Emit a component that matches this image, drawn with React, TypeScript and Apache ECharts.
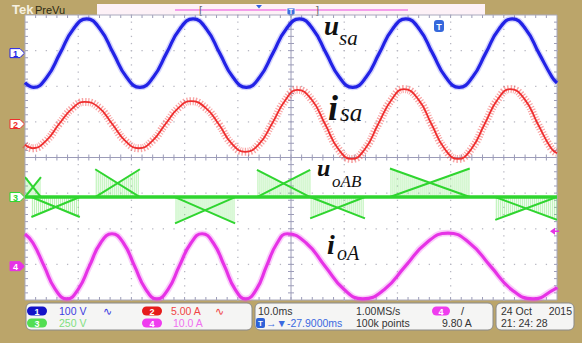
import { useEffect, useRef } from "react";
import * as echarts from "echarts";

// ---- horizontal sweep: 10 divisions at 10 ms/div ----
const msPerDiv = 10;
const hDivs = 10;
const vDivs = 8;
const sweepMs = msPerDiv * hDivs;

// ---- channel set-up: units per division and ground-marker offset (div above screen centre) ----
const chNames = ["1", "2", "3", "4"];
const chScale = [100, 5, 250, 10];
const chUnit = ["V", "A", "V", "A"];
const chOffset = [2.93, 0.94, -1.11, -3.05];
const chColor = ["#2222e6", "#ef2e2e", "#2fd52f", "#e632e6"];
const chPill = ["#1313c8", "#e61b1b", "#52de52", "#ef3cef"];
const chReadout = ["#3b3be0", "#f04545", "#80e080", "#f070f0"];

// CH1: grid phase voltage u_sa (V)
const uSaT = [0, 1.6, 4.1, 6.6, 9.1, 11.6, 14.1, 16.6, 19.1, 21.6, 24.1, 26.6, 29.1, 31.6, 34.1, 36.6, 39.1, 41.6, 44.1, 46.6, 49.1, 51.6, 54.1, 56.6, 59.1, 61.6, 64.1, 66.6, 69.1, 71.6, 74.1, 76.6, 79.1, 81.6, 84.1, 86.6, 89.1, 91.6, 94.1, 96.6, 99.1, 100];
const uSaV = [-83, -96, -68, 0, 68, 96, 68, 0, -68, -96, -68, 0, 68, 96, 68, 0, -68, -96, -68, 0, 68, 96, 68, 0, -68, -96, -68, 0, 68, 96, 68, 0, -68, -96, -68, 0, 68, 96, 68, 0, -68, -84];

// CH2: grid phase current i_sa (A), load step near the trigger point
const iSaT = [0, 1.4, 3.9, 6.4, 8.9, 11.2, 13.9, 16.4, 18.9, 21.4, 23.9, 26.4, 28.9, 31.2, 33.9, 36.4, 38.9, 41.4, 43.9, 46.4, 48.9, 51.2, 53.9, 56.4, 58.9, 61.4, 63.9, 66.4, 68.9, 71.2, 73.9, 76.4, 78.9, 81.4, 83.9, 86.4, 88.9, 91.2, 93.9, 96.4, 98.9, 100];
const iSaA = [-2.9, -3.4, -2.4, 0, 2.2, 3.1, 2.3, 0, -2.4, -3.4, -2.4, 0, 2.3, 3.2, 2.3, 0, -2.8, -3.9, -2.9, 0, 3.3, 4.8, 3.4, 0, -3.5, -4.9, -3.5, 0, 3.4, 4.9, 3.5, 0, -3.5, -4.9, -3.5, 0, 3.5, 4.9, 3.5, 0, -3.4, -4.1];

// CH3: output line voltage u_oAB switching segments (start ms, end ms, segment peak V)
const uoStart = [0, 1.2, 13.2, 28.2, 43.6, 53.6, 68.6, 88.4];
const uoEnd = [3.0, 10.3, 21.6, 39.5, 53.6, 63.9, 83.6, 100];
const uoPeak = [140, -140, 195, -185, 190, -150, 200, -160];

// CH4: output phase current i_oA (A), frequency change at the trigger point
const iOaT = [0, 1.5, 3.6, 5.7, 7.9, 10.0, 12.1, 14.2, 16.35, 18.5, 20.6, 22.7, 24.8, 26.9, 29.0, 31.2, 33.3, 35.4, 37.5, 39.5, 41.5, 43.5, 45.4, 47.4, 49.3, 52.85, 56.4, 59.95, 63.5, 67.5, 71.5, 75.5, 79.5, 83.5, 87.5, 91.5, 95.5, 99.5, 100];
const iOaA = [9.0, 6.5, 0, -6.5, -9.2, -6.5, 0, 6.5, 9.1, 6.5, 0, -6.5, -9.2, -6.5, 0, 6.5, 9.1, 6.5, 0, -6.5, -9.2, -6.5, 0, 6.5, 9.1, 6.5, 0, -6.5, -9.2, -6.6, 0, 6.6, 9.3, 6.6, 0, -6.6, -9.2, -6.5, -5.9];

// trigger: CH4 rising edge at screen centre
const trigCh = 3;
const trigLevel = 9.8;

// acquisition readouts
const sampleRate = "1.00MS/s";
const recordLen = "100k points";
const trigDelay = "-27.9000ms";
const dateLine = ["24 Oct", "2015"];
const timeLine = "21: 24: 28";

const GRID = { left: 25, top: 15, width: 532, height: 285 };
const BG = "#bba56a";
const SANS = "Liberation Sans";
const SERIF = "Liberation Serif";

const pairs = (t: number[], v: number[]) => t.map((x, i) => [x, v[i]]);

function chAxis(i: number) {
  return {
    type: "value" as const,
    min: (-vDivs / 2 - chOffset[i]) * chScale[i],
    max: (vDivs / 2 - chOffset[i]) * chScale[i],
    show: false,
  };
}

function fmtScale(v: number) {
  return v.toPrecision(3);
}

function graticule(_p: any, api: any) {
  const kids: any[] = [];
  const c = (x: number, y: number) => api.coord([x, y]);
  const dot = "#b7b7c2";
  const tk = "#9c9cb8";
  const half = vDivs / 2;
  for (let i = 1; i < hDivs; i++) {
    if (i === hDivs / 2) continue;
    for (let j = 0; j <= vDivs * 5; j++) {
      const [px, py] = c(i * msPerDiv, -half + j * 0.2);
      kids.push({ type: "rect", shape: { x: px - 0.6, y: py - 0.6, width: 1.3, height: 1.3 }, style: { fill: dot } });
    }
  }
  for (let k = -half + 1; k < half; k++) {
    if (k === 0) continue;
    for (let j = 0; j <= hDivs * 5; j++) {
      const [px, py] = c(j * msPerDiv / 5, k);
      kids.push({ type: "rect", shape: { x: px - 0.6, y: py - 0.6, width: 1.3, height: 1.3 }, style: { fill: dot } });
    }
  }
  const [l, cy] = c(0, 0);
  const [r] = c(sweepMs, 0);
  const [cx, top] = c(sweepMs / 2, half);
  const [, bot] = c(sweepMs / 2, -half);
  const ln = (x1: number, y1: number, x2: number, y2: number) =>
    kids.push({ type: "line", shape: { x1, y1, x2, y2 }, style: { stroke: tk, lineWidth: 1 } });
  ln(l, cy, r, cy);
  ln(cx, top, cx, bot);
  for (let j = 1; j < hDivs * 5; j++) {
    const [px] = c(j * msPerDiv / 5, 0);
    ln(px, cy - 3, px, cy + 3);
    ln(px, top, px, top + 3);
    ln(px, bot - 3, px, bot);
  }
  for (let j = 1; j < vDivs * 5; j++) {
    const [, py] = c(0, -half + j * 0.2);
    ln(cx - 3, py, cx + 3, py);
    ln(l, py, l + 3, py);
    ln(r - 3, py, r, py);
  }
  kids.push({ type: "rect", shape: { x: l, y: top, width: r - l, height: bot - top }, style: { fill: "none", stroke: "#a9a9bd", lineWidth: 1 } });
  return { type: "group", children: kids };
}

// one switching segment of u_oAB: two crossing arcs with the PWM hatch between them and zero
function switchingSegment(_p: any, api: any) {
  const s = api.value(0);
  const e = api.value(1);
  const pk = api.value(2);
  const a0 = api.coord([s, 0]);
  const a1 = api.coord([s, pk]);
  const b1 = api.coord([e, pk]);
  const b0 = api.coord([e, 0]);
  const green = chColor[2];
  const kids: any[] = [];
  const w = b0[0] - a0[0];
  const h = a1[1] - a0[1];
  for (let x = a0[0] + 1; x < b0[0]; x += 2) {
    const f = (x - a0[0]) / w;
    const env = Math.max(f, 1 - f);
    kids.push({
      type: "line",
      shape: { x1: x, y1: a0[1], x2: x, y2: a0[1] + h * env },
      style: { stroke: "rgba(120,230,110,0.55)", lineWidth: 1 },
    });
  }
  kids.push({ type: "line", shape: { x1: a0[0], y1: a0[1], x2: b1[0], y2: b1[1] }, style: { stroke: green, lineWidth: 2 } });
  kids.push({ type: "line", shape: { x1: a1[0], y1: a1[1], x2: b0[0], y2: b0[1] }, style: { stroke: green, lineWidth: 2 } });
  return { type: "group", children: kids };
}

function trigArrow(_p: any, api: any) {
  const [x, y] = api.coord([api.value(0), api.value(1)]);
  const col = chColor[trigCh];
  return {
    type: "group",
    children: [
      { type: "polygon", shape: { points: [[x - 7, y], [x - 2, y - 3.5], [x - 2, y + 3.5]] }, style: { fill: col } },
      { type: "line", shape: { x1: x - 3, y1: y, x2: x + 2, y2: y }, style: { stroke: col, lineWidth: 1.5 } },
    ],
  };
}

function txt(x: number, y: number, text: string, fill: string, size = 10.5, extra: any = {}) {
  return {
    type: "text",
    x,
    y,
    silent: true,
    style: { text, fill, fontSize: size, fontFamily: SANS, textVerticalAlign: "middle", ...extra },
  };
}

function pill(x: number, y: number, w: number, h: number, fill: string, label: string) {
  return {
    type: "group",
    children: [
      { type: "rect", shape: { x, y, width: w, height: h, r: h / 2 }, style: { fill } },
      txt(x + w / 2, y + h / 2 + 0.5, label, "#ffffff", 9, { textAlign: "center", fontWeight: "bold" }),
    ],
  };
}

function groundMarker(i: number) {
  const divPx = GRID.height / vDivs;
  const y = GRID.top + (vDivs / 2 - chOffset[i]) * divPx;
  const filled = i === 3;
  return {
    type: "group",
    children: [
      {
        type: "polygon",
        shape: { points: [[10, y - 4.5], [20, y - 4.5], [24.5, y], [20, y + 4.5], [10, y + 4.5]] },
        style: { fill: filled ? chColor[i] : "#ffffff", stroke: chColor[i], lineWidth: 1 },
      },
      txt(15.5, y + 0.5, chNames[i], filled ? "#ffffff" : chColor[i], 9, { textAlign: "center", fontWeight: "bold" }),
    ],
  };
}

function traceLabel(x: number, yMain: number, main: string, mainSize: number, xSub: number, ySub: number, sub: string, subSize: number) {
  return [
    {
      type: "text", x, y: yMain, silent: true,
      style: { text: main, fill: "#111", fontSize: mainSize, fontFamily: SERIF, fontStyle: "italic", fontWeight: "bold", textVerticalAlign: "middle" },
    },
    {
      type: "text", x: xSub, y: ySub, silent: true,
      style: { text: sub, fill: "#111", fontSize: subSize, fontFamily: SERIF, fontStyle: "italic", textVerticalAlign: "middle" },
    },
  ];
}

export default function App() {
  const ref = useRef<HTMLDivElement>(null);

  useEffect(() => {
    if (!ref.current) return;
    const chart = echarts.init(ref.current, undefined, { renderer: "svg" });
    const row1 = 311;
    const row2 = 323;

    const graphics: any[] = [
      // header strip
      txt(12, 9.5, "Tek", "#f6f1e2", 13, { fontWeight: "bold" }),
      txt(35, 9.5, "PreVu", "#2c2a14", 11),
      { type: "rect", silent: true, shape: { x: 97, y: 4, width: 388, height: 11 }, style: { fill: "#fdf1f7" } },
      { type: "line", silent: true, shape: { x1: 175, y1: 10, x2: 408, y2: 10 }, style: { stroke: "#f07fe6", lineWidth: 1.5 } },
      txt(199, 9.5, "[", "#666", 11),
      txt(316, 9.5, "]", "#666", 11),
      { type: "polygon", silent: true, shape: { points: [[256, 5], [262, 5], [259, 8.5]] }, style: { fill: "#2f5fe0" } },
      // trigger position marker
      {
        type: "polygon", silent: true,
        shape: { points: [[287, 8], [295, 8], [295, 14], [291, 17], [287, 14]] },
        style: { fill: "#3c6ee0", stroke: "#ffffff", lineWidth: 0.8 },
      },
      txt(291, 11.5, "T", "#ffffff", 7, { textAlign: "center", fontWeight: "bold" }),
      // trigger icon in the graticule
      { type: "rect", silent: true, shape: { x: 434, y: 20, width: 10, height: 12, r: 3 }, style: { fill: "#3568dc" } },
      txt(439, 26.5, "T", "#ffffff", 9, { textAlign: "center", fontWeight: "bold" }),
      ...[0, 1, 2, 3].map(groundMarker),
      // trace names
      ...traceLabel(324, 26, "u", 27, 339, 38, "sa", 21),
      ...traceLabel(328, 108, "i", 36, 340, 112.5, "sa", 25),
      ...traceLabel(317, 168, "u", 24, 332, 181, "oAB", 17),
      ...traceLabel(327, 244.5, "i", 28, 337, 253, "oA", 20),
      // readout panels
      { type: "rect", silent: true, shape: { x: 26, y: 303, width: 226, height: 27, r: 5 }, style: { fill: "#f5f5f4", stroke: "#8a8a8a", lineWidth: 1 } },
      { type: "rect", silent: true, shape: { x: 255, y: 303, width: 238, height: 27, r: 5 }, style: { fill: "#f5f5f4", stroke: "#8a8a8a", lineWidth: 1 } },
      { type: "rect", silent: true, shape: { x: 496, y: 303, width: 78, height: 27, r: 5 }, style: { fill: "#f5f5f4", stroke: "#8a8a8a", lineWidth: 1 } },
      pill(27, 306.5, 20, 9, chPill[0], chNames[0]),
      txt(59, row1, `${fmtScale(chScale[0])} ${chUnit[0]}`, chReadout[0]),
      txt(103, row1, "∿", chReadout[0], 11, { fontFamily: "DejaVu Sans" }),
      pill(142, 306.5, 20, 9, chPill[1], chNames[1]),
      txt(171, row1, `${fmtScale(chScale[1])} ${chUnit[1]}`, chReadout[1]),
      txt(215, row1, "∿", chReadout[1], 11, { fontFamily: "DejaVu Sans" }),
      pill(27, 318.5, 20, 9, chPill[2], chNames[2]),
      txt(59, row2, `${fmtScale(chScale[2])} ${chUnit[2]}`, chReadout[2]),
      pill(142, 318.5, 20, 9, chPill[3], chNames[3]),
      txt(173, row2, `${fmtScale(chScale[3])} ${chUnit[3]}`, chReadout[3]),
      txt(258, row1, `${msPerDiv.toFixed(1)}ms`, "#333"),
      { type: "rect", silent: true, shape: { x: 256, y: 318, width: 9, height: 10, r: 2 }, style: { fill: "#2d62d8" } },
      txt(260.5, row2 + 0.5, "T", "#ffffff", 8, { textAlign: "center", fontWeight: "bold" }),
      txt(266, row2, `→▼${trigDelay}`, "#3a6ae0"),
      txt(356, row1, sampleRate, "#333"),
      txt(356, row2, recordLen, "#333"),
      pill(432, 306.5, 18, 9, chPill[trigCh], chNames[trigCh]),
      txt(461, row1, "/", "#333", 11),
      txt(442, row2, `${trigLevel.toFixed(2)} ${chUnit[trigCh]}`, "#333"),
      txt(501, row1, dateLine[0], "#333"),
      txt(572, row1, dateLine[1], "#333", 10.5, { textAlign: "right" }),
      txt(501, row2, timeLine, "#333"),
    ];

    const lineBase = { type: "line" as const, smooth: true, symbol: "none", silent: true };

    chart.setOption({
      animation: false,
      backgroundColor: BG,
      grid: { ...GRID, show: true, backgroundColor: "#ffffff", borderWidth: 0 },
      xAxis: { type: "value", min: 0, max: sweepMs, show: false },
      yAxis: [
        { type: "value", min: -vDivs / 2, max: vDivs / 2, show: false },
        chAxis(0),
        chAxis(1),
        chAxis(2),
        chAxis(3),
      ],
      series: [
        { type: "custom", renderItem: graticule, data: [[0, 0]], silent: true, z: 1 },
        // CH3 u_oAB
        {
          type: "custom", yAxisIndex: 3, renderItem: switchingSegment, clip: true, silent: true, z: 2,
          encode: { x: [0, 1], y: 2 },
          data: uoStart.map((s, i) => [s, uoEnd[i], uoPeak[i]]),
        },
        { ...lineBase, smooth: false, yAxisIndex: 3, z: 3, data: [[0, 0], [sweepMs, 0]], lineStyle: { color: chColor[2], width: 3.5 } },
        // CH2 i_sa (ripple band + core)
        { ...lineBase, yAxisIndex: 2, z: 4, data: pairs(iSaT, iSaA), lineStyle: { color: "rgba(240,50,50,0.45)", width: 8, type: [1.2, 1.6] } },
        { ...lineBase, yAxisIndex: 2, z: 5, data: pairs(iSaT, iSaA), lineStyle: { color: chColor[1], width: 1.8 } },
        // CH1 u_sa
        { ...lineBase, yAxisIndex: 1, z: 6, data: pairs(uSaT, uSaV), lineStyle: { color: "rgba(60,60,240,0.22)", width: 6 } },
        { ...lineBase, yAxisIndex: 1, z: 7, data: pairs(uSaT, uSaV), lineStyle: { color: chColor[0], width: 3.2 } },
        // CH4 i_oA
        { ...lineBase, yAxisIndex: 4, z: 6, data: pairs(iOaT, iOaA), lineStyle: { color: "rgba(235,60,235,0.25)", width: 6.5 } },
        { ...lineBase, yAxisIndex: 4, z: 7, data: pairs(iOaT, iOaA), lineStyle: { color: chColor[3], width: 3.2 } },
        // trigger level marker
        { type: "custom", yAxisIndex: 4, renderItem: trigArrow, data: [[sweepMs, trigLevel]], silent: true, z: 8 },
      ],
      graphic: { elements: graphics },
    });

    return () => chart.dispose();
  }, []);

  return <div ref={ref} style={{ position: "absolute", left: 0, top: 0, width: 582, height: 343 }} />;
}
